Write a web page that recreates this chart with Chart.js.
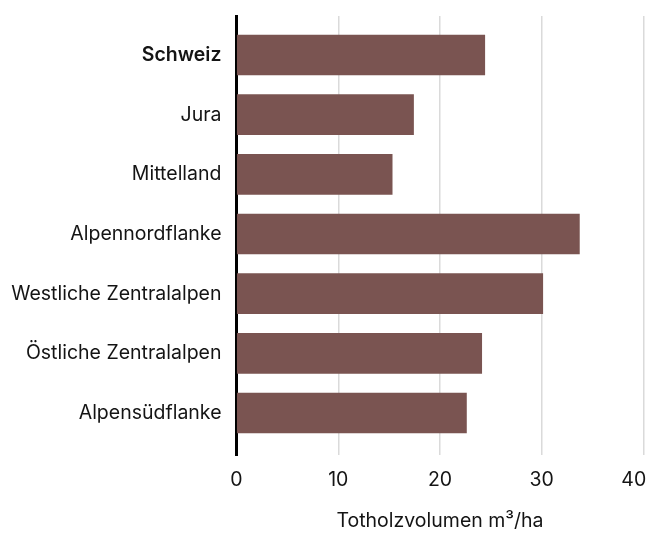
<!DOCTYPE html>
<html>
<head>
<meta charset="utf-8">
<script src="https://cdn.jsdelivr.net/npm/chart.js@4.4.1/dist/chart.umd.min.js"></script>
<style>
  html, body { margin: 0; padding: 0; background: #fff; }
  #wrap { width: 647px; height: 534px; position: relative; }
</style>
</head>
<body>
<div id="wrap"><canvas id="c"></canvas></div>
<script>
const categories = ['Schweiz', 'Jura', 'Mittelland', 'Alpennordflanke', 'Westliche Zentralalpen', 'Östliche Zentralalpen', 'Alpensüdflanke'];
const values = [24.4, 17.4, 15.3, 33.7, 30.1, 24.1, 22.6];
const xTicks = [0, 10, 20, 30, 40];
const axisTitle = 'Totholzvolumen m³/ha';

const FONT = 'Inter';
const FS = 19.5;
const TEXT = '#141414';

new Chart(document.getElementById('c'), {
  type: 'bar',
  data: {
    datasets: [{
      data: categories.map((c, i) => ({ x: values[i], y: i })),
      backgroundColor: '#7a5451',
      borderWidth: 0,
      barThickness: 40
    }]
  },
  options: {
    indexAxis: 'y',
    responsive: true,
    maintainAspectRatio: false,
    animation: false,
    devicePixelRatio: 1,
    layout: { padding: { top: 16, right: 3.5, left: 0, bottom: 0 } },
    plugins: { legend: { display: false }, tooltip: { enabled: false } },
    scales: {
      x: {
        type: 'linear',
        position: 'bottom',
        min: 0,
        max: 40,
        afterBuildTicks: s => { s.ticks = xTicks.map(v => ({ value: v })); },
        afterFit: s => { s.height = 79; s.paddingLeft = 0; s.paddingRight = 0; },
        grid: { color: '#dadada', lineWidth: 1.5, drawTicks: false },
        border: { display: false },
        ticks: {
          padding: 13,
          color: TEXT,
          font: { family: FONT, size: FS },
          maxRotation: 0,
          callback: v => v === 40 ? '40\u2002\u2002' : String(v)
        },
        title: {
          display: true,
          text: axisTitle,
          color: TEXT,
          font: { family: FONT, size: FS },
          padding: { top: 0, bottom: 1.5 }
        }
      },
      y: {
        type: 'linear',
        offset: false,
        reverse: true,
        min: -0.654,
        max: 6.704,
        afterBuildTicks: s => { s.ticks = categories.map((c, i) => ({ value: i })); },
        afterFit: s => { s.width = 236.5; s.paddingTop = 0; s.paddingBottom = 0; },
        grid: { display: false, drawTicks: false, offset: false },
        border: { display: true, color: '#000', width: 3 },
        ticks: {
          padding: 15,
          color: TEXT,
          font: ctx => ({ family: FONT, size: FS, weight: ctx.tick && ctx.tick.value === 0 ? '600' : 'normal' }),
          callback: v => categories[v]
        }
      }
    }
  }
});
</script>
</body>
</html>
